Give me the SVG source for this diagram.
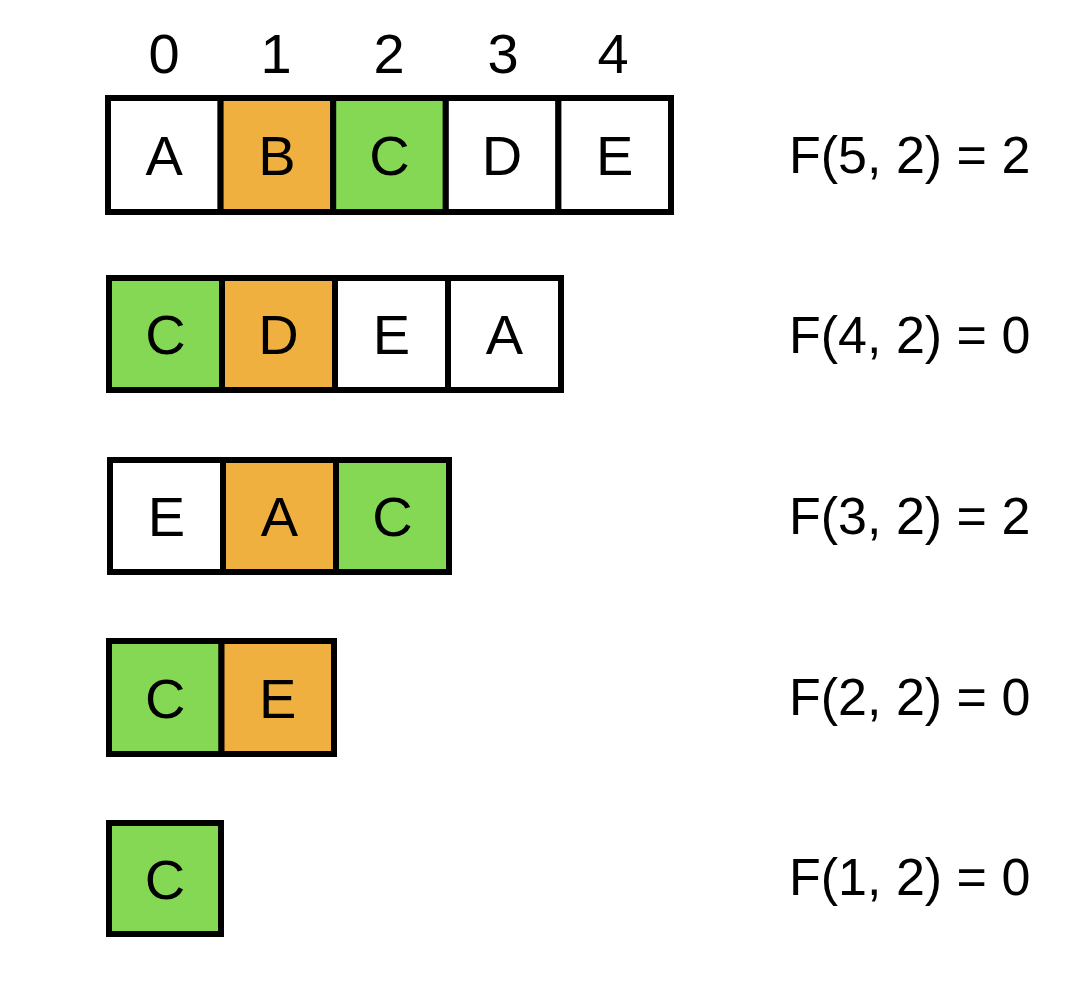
<svg xmlns="http://www.w3.org/2000/svg" width="1088" height="984" viewBox="0 0 1088 984">
<style>
.c{stroke:#000;stroke-width:6}
.w{fill:#fff}
.o{fill:#F0B03F}
.g{fill:#84D854}
text{font-family:"Liberation Sans",Arial,sans-serif;fill:#000}
.t{font-size:56px;text-anchor:middle}
.l{font-size:52px}
</style>
<rect width="1088" height="984" fill="#fff"/>
<g id="indices">
<text class="t" x="164" y="73">0</text>
<text class="t" x="276" y="73">1</text>
<text class="t" x="389" y="73">2</text>
<text class="t" x="503" y="73">3</text>
<text class="t" x="613" y="73">4</text>
</g>
<g id="row1">
<rect class="c w" x="108" y="98" width="112.6" height="114"/>
<rect class="c o" x="220.6" y="98" width="112.6" height="114"/>
<rect class="c g" x="333.2" y="98" width="112.6" height="114"/>
<rect class="c w" x="445.8" y="98" width="112.6" height="114"/>
<rect class="c w" x="558.4" y="98" width="112.6" height="114"/>
<text class="t" x="164.3" y="175">A</text>
<text class="t" x="276.9" y="175">B</text>
<text class="t" x="389.5" y="175">C</text>
<text class="t" x="502.1" y="175">D</text>
<text class="t" x="614.7" y="175">E</text>
<text class="l" x="789" y="173">F(5, 2) = 2</text>
</g>
<g id="row2">
<rect class="c g" x="109" y="278" width="113" height="112"/>
<rect class="c o" x="222" y="278" width="113" height="112"/>
<rect class="c w" x="335" y="278" width="113" height="112"/>
<rect class="c w" x="448" y="278" width="113" height="112"/>
<text class="t" x="165.5" y="354">C</text>
<text class="t" x="278.5" y="354">D</text>
<text class="t" x="391.5" y="354">E</text>
<text class="t" x="504.5" y="354">A</text>
<text class="l" x="789" y="353">F(4, 2) = 0</text>
</g>
<g id="row3">
<rect class="c w" x="110" y="460" width="113" height="112"/>
<rect class="c o" x="223" y="460" width="113" height="112"/>
<rect class="c g" x="336" y="460" width="113" height="112"/>
<text class="t" x="166.5" y="536">E</text>
<text class="t" x="279.5" y="536">A</text>
<text class="t" x="392.5" y="536">C</text>
<text class="l" x="789" y="534">F(3, 2) = 2</text>
</g>
<g id="row4">
<rect class="c g" x="109" y="641" width="112.5" height="113"/>
<rect class="c o" x="221.5" y="641" width="112.5" height="113"/>
<text class="t" x="165.3" y="717.5">C</text>
<text class="t" x="277.8" y="717.5">E</text>
<text class="l" x="789" y="715">F(2, 2) = 0</text>
</g>
<g id="row5">
<rect class="c g" x="109" y="823" width="112" height="111"/>
<text class="t" x="165" y="898.5">C</text>
<text class="l" x="789" y="895">F(1, 2) = 0</text>
</g>
<g id="connectors"></g>
</svg>
